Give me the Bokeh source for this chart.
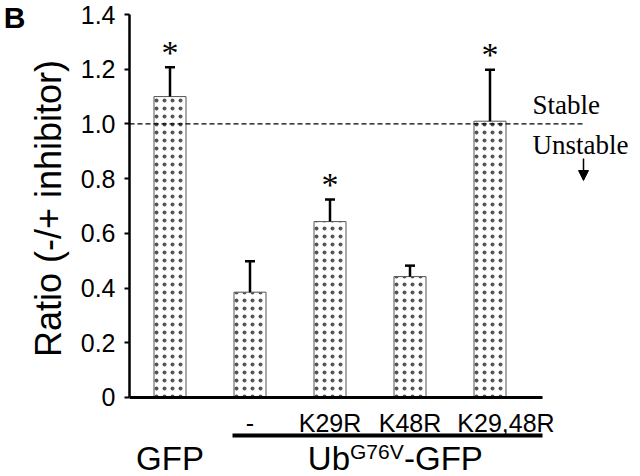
from bokeh.plotting import figure
from bokeh.models import Range1d, FixedTicker, LinearAxis, Arrow, NormalHead, ColumnDataSource
from bokeh.core.properties import value
from bokeh.embed import file_html
from bokeh.resources import INLINE

# ---- data ----
groups = ["GFP", "-", "K29R", "K48R", "K29,48R"]
ratios = [1.10, 0.385, 0.643, 0.442, 1.01]
errors = [0.107, 0.113, 0.081, 0.040, 0.188]
significant = [True, False, True, False, True]
y_ticks = [0, 0.2, 0.4, 0.6, 0.8, 1.0, 1.2, 1.4]
y_tick_labels = ["0", "0.2", "0.4", "0.6", "0.8", "1.0", "1.2", "1.4"]
threshold = 1.0
above_label = "Stable"
below_label = "Unstable"
y_title = "Ratio (-/+ inhibitor)"
panel_letter = "B"
group_main = "Ub"
group_sup = "G76V"
group_tail = "-GFP"

# ---- layout constants (not data) ----
X0, X1 = -0.50625, 5.88125
Y0, Y1 = -0.28878, 1.45118
bar_w = 0.4
cap = 0.0625
SANS = "Liberation Sans"
SERIF = "Liberation Serif"

xs = list(range(len(groups)))
tops = [r + e for r, e in zip(ratios, errors)]

p = figure(width=640, height=476, x_range=Range1d(X0, X1), y_range=Range1d(Y0, Y1),
           output_backend="svg", toolbar_location=None,
           min_border_left=129, min_border_right=0, min_border_top=0, min_border_bottom=0)
p.xaxis.visible = False
p.grid.visible = False
p.outline_line_color = None
p.background_fill_color = "white"

ax = p.yaxis[0]
ax.bounds = (0, 1.4)
ax.ticker = FixedTicker(ticks=y_ticks)
ax.major_label_overrides = {t: l for t, l in zip(y_ticks, y_tick_labels)}
ax.minor_tick_line_color = None
ax.major_tick_in = 0
ax.major_tick_out = 5
ax.major_tick_line_width = 2
ax.axis_line_width = 2.5
ax.major_label_standoff = 9
ax.major_label_text_font = SANS
ax.major_label_text_font_size = "25px"
ax.major_label_text_color = "black"

# y title as a vertical label on its own axis so it sits where the reference has it
title_pos = 0.6909
ax_title = LinearAxis(ticker=FixedTicker(ticks=[title_pos]),
                      major_label_overrides={title_pos: y_title},
                      major_label_orientation="vertical",
                      axis_line_color=None, major_tick_line_color=None, minor_tick_line_color=None,
                      major_tick_in=0, major_tick_out=0, minor_tick_in=0, minor_tick_out=0,
                      major_label_standoff=8, major_label_text_font=SANS,
                      major_label_text_font_size="36px", major_label_text_color="black")
p.add_layout(ax_title, "left")

letter_pos = 1.393
ax_letter = LinearAxis(ticker=FixedTicker(ticks=[letter_pos]),
                       major_label_overrides={letter_pos: panel_letter},
                       axis_line_color=None, major_tick_line_color=None, minor_tick_line_color=None,
                       major_tick_in=0, major_tick_out=0, minor_tick_in=0, minor_tick_out=0,
                       major_label_standoff=0, major_label_text_font=SANS,
                       major_label_text_font_style="bold",
                       major_label_text_font_size="30px", major_label_text_color="black")
p.add_layout(ax_letter, "left")

src = ColumnDataSource(dict(x=xs, top=ratios))
p.vbar(x="x", top="top", bottom=0, width=bar_w, source=src,
       fill_color="white", line_color="#555555", line_width=1,
       hatch_pattern="dot", hatch_color="#555555", hatch_scale=8, hatch_weight=0.8)

# error bars (upper only)
p.segment(x0=xs, y0=ratios, x1=xs, y1=tops, line_color="black", line_width=2.5)
p.segment(x0=[x - cap for x in xs], y0=tops, x1=[x + cap for x in xs], y1=tops,
          line_color="black", line_width=2.5)

# significance asterisks
sx = [x for x, s in zip(xs, significant) if s]
sy = [t + 0.055 for t, s in zip(tops, significant) if s]
p.text(x=sx, y=sy, text=["*"] * len(sx), text_font=value(SERIF), text_font_size="34px",
       text_align="center", text_baseline="alphabetic", text_color="black")

# threshold line and its labels
line_end = 5.16875
p.segment(x0=[X0], y0=[threshold], x1=[line_end], y1=[threshold],
          line_color="black", line_width=1.3, line_dash="5 3")
text_left = 4.53
p.text(x=[text_left], y=[threshold + 0.069], text=[above_label], text_font=value(SERIF),
       text_font_size="27px", text_align="left", text_baseline="alphabetic", text_color="black")
p.text(x=[text_left], y=[threshold - 0.0768], text=[below_label], text_font=value(SERIF),
       text_font_size="27px", text_align="left", text_baseline="alphabetic", text_color="black")
p.add_layout(Arrow(x_start=line_end, y_start=0.8736, x_end=line_end, y_end=0.7932,
                   line_color="black", line_width=1.5,
                   end=NormalHead(size=10, fill_color="black", line_color="black")))

# baseline (x axis line)
axis_end = 4.65625
p.segment(x0=[X0], y0=[0], x1=[axis_end], y1=[0], line_color="black", line_width=3)

# sub-category labels
label_dx = [0, 0, 0, 0, 16]
p.text(x=xs[1:], y=[-0.0932] * (len(xs) - 1), text=groups[1:], x_offset=label_dx[1:],
       text_font=value(SANS), text_font_size="25px", text_align="center",
       text_baseline="alphabetic", text_color="black")

# group line
p.segment(x0=[0.78125], y0=[-0.1389], x1=[axis_end], y1=[-0.1389], line_color="black", line_width=4)

# lower labels
low_y = -0.2230
p.text(x=[xs[0]], y=[low_y], text=[groups[0]], text_font=value(SANS), text_font_size="33px",
       text_align="center", text_baseline="alphabetic", text_color="black")
jx = 2.25
p.text(x=[jx], y=[low_y], text=[group_main], text_font=value(SANS), text_font_size="33px",
       text_align="right", text_baseline="alphabetic", text_color="black")
p.text(x=[jx], y=[-0.1974], text=[group_sup], text_font=value(SANS), text_font_size="21px",
       text_align="left", text_baseline="alphabetic", text_color="black")
p.text(x=[jx + 0.675], y=[low_y], text=[group_tail], text_font=value(SANS), text_font_size="33px",
       text_align="left", text_baseline="alphabetic", text_color="black")

open("out.html", "w").write(file_html(p, INLINE))
